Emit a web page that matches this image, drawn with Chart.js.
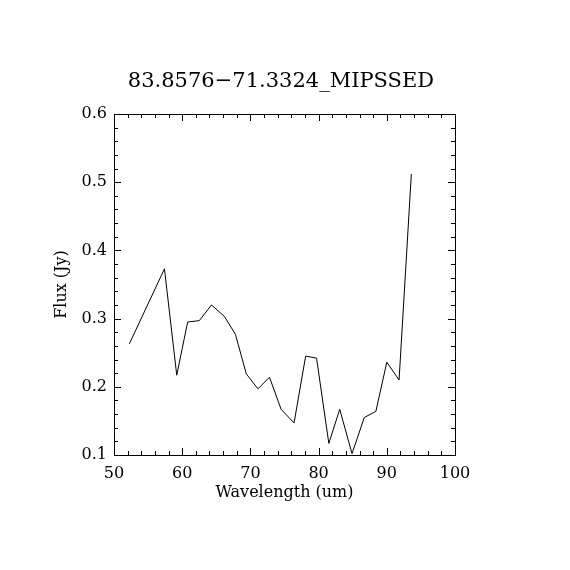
<!DOCTYPE html>
<html>
<head>
<meta charset="utf-8">
<script src="https://cdn.jsdelivr.net/npm/chart.js@4"></script>
<style>
  html, body { margin: 0; padding: 0; background: #fff; }
  #wrap { width: 570px; height: 570px; }
</style>
</head>
<body>
<div id="wrap"><canvas id="sed"></canvas></div>
<script>
// MIPS SED spectrum
const TITLE = '83.8576\u221271.3324_MIPSSED';
const X_LABEL = 'Wavelength (um)';
const Y_LABEL = 'Flux (Jy)';
const wavelength = [52.25, 57.4, 59.2, 60.8, 62.5, 64.3, 66.2, 67.8, 69.4, 71.1, 72.8, 74.5,
  76.4, 78.1, 79.7, 81.5, 83.1, 84.9, 86.7, 88.4, 90.0, 91.8, 93.6];
const flux = [0.263, 0.373, 0.217, 0.295, 0.297, 0.320, 0.303, 0.277, 0.219, 0.197, 0.214, 0.167,
  0.147, 0.245, 0.242, 0.117, 0.167, 0.102, 0.155, 0.164, 0.236, 0.210, 0.512];
const X_RANGE = [50, 100];
const Y_RANGE = [0.1, 0.6];

const FONT = '"DejaVu Serif", "Liberation Serif", serif';

// IDL-style frame with inward major/minor ticks on all four sides + title
const idlFrame = {
  id: 'idlFrame',
  afterDraw(chart) {
    const { ctx, chartArea: a, scales } = chart;
    const xs = scales.x, ys = scales.y;
    ctx.save();
    ctx.strokeStyle = '#000';
    ctx.lineWidth = 1;
    ctx.strokeRect(a.left + 0.5, a.top + 0.5, a.right - a.left, a.bottom - a.top);
    ctx.beginPath();
    for (let i = 0; i <= 25; i++) {
      const v = X_RANGE[0] + i * 2;
      const px = Math.round(xs.getPixelForValue(v)) + 0.5;
      const len = i % 5 === 0 ? 7 : 4;
      ctx.moveTo(px, a.bottom); ctx.lineTo(px, a.bottom - len);
      ctx.moveTo(px, a.top); ctx.lineTo(px, a.top + len);
    }
    for (let i = 0; i <= 25; i++) {
      const v = Y_RANGE[0] + i * 0.02;
      const py = Math.round(ys.getPixelForValue(v)) + 0.5;
      const len = i % 5 === 0 ? 7 : 4;
      ctx.moveTo(a.left, py); ctx.lineTo(a.left + len, py);
      ctx.moveTo(a.right, py); ctx.lineTo(a.right - len, py);
    }
    ctx.stroke();
    ctx.fillStyle = '#000';
    ctx.font = '21px ' + FONT;
    ctx.textAlign = 'center';
    ctx.textBaseline = 'middle';
    ctx.fillText(TITLE, 281, 82);
    ctx.restore();
  }
};

new Chart(document.getElementById('sed'), {
  type: 'scatter',
  data: {
    datasets: [{
      data: wavelength.map((w, i) => ({ x: w, y: flux[i] })),
      showLine: true,
      borderColor: '#000',
      borderWidth: 1,
      pointRadius: 0,
      tension: 0,
    }]
  },
  options: {
    responsive: true,
    maintainAspectRatio: false,
    animation: false,
    layout: { padding: { top: 114, right: 115, left: 52, bottom: 68 } },
    plugins: { legend: { display: false }, tooltip: { enabled: false } },
    scales: {
      x: {
        type: 'linear', min: X_RANGE[0], max: X_RANGE[1],
        grid: { display: false, tickLength: 0 }, border: { display: false },
        ticks: { stepSize: 10, color: '#000', padding: 9, maxRotation: 0, font: { family: FONT, size: 16 } },
        title: { display: true, text: X_LABEL, color: '#000', padding: { top: 0, bottom: 0 }, font: { family: FONT, size: 16 } },
        afterFit: s => { s.height = 47; },
      },
      y: {
        type: 'linear', min: Y_RANGE[0], max: Y_RANGE[1],
        grid: { display: false, tickLength: 0 }, border: { display: false },
        ticks: { stepSize: 0.1, color: '#000', padding: 7, callback: v => v.toFixed(1), font: { family: FONT, size: 16 } },
        title: { display: true, text: Y_LABEL, color: '#000', padding: 0, font: { family: FONT, size: 16 } },
        afterFit: s => { s.width = 62; },
      }
    }
  },
  plugins: [idlFrame]
});
</script>
</body>
</html>
